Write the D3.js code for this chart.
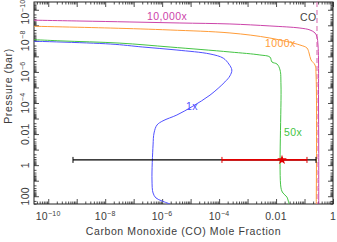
<!DOCTYPE html>
<html>
<head>
<meta charset="utf-8">
<script src="https://cdn.jsdelivr.net/npm/d3@7"></script>
<style>
    body { margin: 0; background: #fff; }
    text { font-family: "Liberation Sans", Arial, sans-serif; }
</style>
</head>
<body>
<svg id="chart" width="337" height="242"></svg>
<script>
// CO mole fraction profiles, [mole fraction, pressure in bar]
const profile1x = [
    [1e-11, 1.0e-8], [1.5e-8, 1.6e-8], [2.1e-7, 2.5e-8], [3.3e-6, 3.9e-8], [4.8e-5, 7.0e-8],
    [1.4e-4, 1.3e-7], [2.2e-4, 3.1e-7], [2.8e-4, 7.5e-7], [2.4e-4, 1.8e-6], [1.6e-4, 4.4e-6],
    [4.8e-5, 3.1e-5], [1.2e-5, 1.6e-4], [3.3e-6, 5.9e-4], [1.07e-6, 1.4e-3], [6.6e-7, 2.6e-3],
    [5.2e-7, 8.5e-3], [4.8e-7, 0.05], [4.4e-7, 9], [4.8e-7, 62], [6.1e-7, 130],
    [9.9e-7, 202], [1.9e-6, 316]
];
const profile50x = [
    [1e-11, 7.6e-9], [2.6e-10, 1.0e-8], [3.3e-8, 1.4e-8], [1.9e-6, 2.5e-8], [2.4e-4, 5.2e-8],
    [2.7e-3, 8.1e-8], [6.1e-3, 1.1e-7], [7.2e-3, 2.3e-7], [0.0108, 3.1e-7], [0.0138, 7.5e-7],
    [0.0149, 6.9e-6], [0.0149, 29], [0.0175, 62], [0.024, 112], [0.0285, 316]
];
const profile1000x = [
    [1e-11, 1.1e-9], [1.5e-8, 1.5e-9], [1.9e-6, 2.0e-9], [2.4e-4, 3.1e-9], [6.1e-3, 6.6e-9],
    [0.069, 1.85e-8], [0.122, 2.9e-8], [0.144, 6.0e-8], [0.169, 1.7e-7], [0.233, 3.6e-7],
    [0.255, 2.1e-6], [0.258, 316]
];
const profile10000x = [
    [1e-11, 4.5e-10], [1.3e-9, 5.3e-10], [7.4e-8, 6.1e-10], [4.2e-6, 7.1e-10], [2.4e-4, 8.2e-10],
    [6.1e-3, 1.1e-9], [0.069, 1.5e-9], [0.156, 2.0e-9], [0.233, 3.1e-9], [0.274, 5.6e-9],
    [0.297, 1.85e-8], [0.31, 1.7e-7], [0.31, 6.4e-5], [0.315, 0.106], [0.315, 316]
];
const coTotal = 0.274;          // dashed "CO" limit
const obsPressure = 0.46;       // retrieved pressure level
const obsBlack = [7.4e-10, 0.253];
const obsRed = [1.26e-4, 0.122];
const obsBest = 0.0162;

const xLabelTicks = [1e-10, 1e-8, 1e-6, 1e-4, 1e-2, 1];
const yLabelTicks = [1e-10, 1e-8, 1e-6, 1e-4, 1e-2, 1, 100];

const series = [
    {name: "1x",      data: profile1x,     color: "#5050ff", lx: 186, ly: 110},
    {name: "50x",     data: profile50x,    color: "#44c444", lx: 284, ly: 136},
    {name: "1000x",   data: profile1000x,  color: "#ff9c38", lx: 265, ly: 47},
    {name: "10,000x", data: profile10000x, color: "#cc44aa", lx: 147, ly: 20}
];

const margin = {left: 34, right: 333, top: 2, bottom: 204};
const svg = d3.select("#chart");

const x = d3.scaleLog().domain([10 ** -10.5, 1]).range([margin.left, margin.right]);
const y = d3.scaleLog().domain([10 ** -10.5, 10 ** 2.5]).range([margin.top, margin.bottom]);

svg.append("defs").append("clipPath").attr("id", "plotClip")
    .append("rect")
    .attr("x", margin.left).attr("y", margin.top)
    .attr("width", margin.right - margin.left).attr("height", margin.bottom - margin.top);

// decade + minor ticks
const decades = d3.range(-11, 3);
const inDomain = s => v => v >= s.domain()[0] && v <= s.domain()[1];
const majorX = decades.map(d => 10 ** d).filter(inDomain(x));
const minorX = decades.flatMap(d => d3.range(2, 10).map(m => m * 10 ** d)).filter(inDomain(x));
const majorY = decades.map(d => 10 ** d).filter(inDomain(y));
const minorY = decades.flatMap(d => d3.range(2, 10).map(m => m * 10 ** d)).filter(inDomain(y));

const axisColor = "#222";
function addAxis(axis, transform) {
    const g = svg.append("g").attr("transform", transform).call(axis);
    g.selectAll("path, line").attr("stroke", axisColor).attr("stroke-width", 0.8);
    g.select(".domain").remove();
    g.selectAll("text").remove();
}
[[majorX, 5], [minorX, 2.5]].forEach(([vals, len]) => {
    addAxis(d3.axisBottom(x).tickValues(vals).tickSize(-len), `translate(0,${margin.bottom})`);
    addAxis(d3.axisTop(x).tickValues(vals).tickSize(-len), `translate(0,${margin.top})`);
});
[[majorY, 5], [minorY, 2.5]].forEach(([vals, len]) => {
    addAxis(d3.axisLeft(y).tickValues(vals).tickSize(-len), `translate(${margin.left},0)`);
    addAxis(d3.axisRight(y).tickValues(vals).tickSize(-len), `translate(${margin.right},0)`);
});

svg.append("rect")
    .attr("x", margin.left).attr("y", margin.top)
    .attr("width", margin.right - margin.left).attr("height", margin.bottom - margin.top)
    .attr("fill", "none").attr("stroke", axisColor).attr("stroke-width", 1);

// tick labels, 10^n written with a superscript
function tickLabel(sel, v) {
    const e = Math.round(Math.log10(v));
    if (e >= -2) {
        sel.text(d3.format("~g")(v));
    } else {
        sel.append("tspan").text("10");
        sel.append("tspan").attr("font-size", 7).attr("dy", -4.5).text("\u2212" + (-e));
    }
}
const labelColor = "#3c3c3c";
xLabelTicks.forEach(v => {
    svg.append("text")
        .attr("x", x(v)).attr("y", 220)
        .attr("text-anchor", "middle").attr("font-size", 10.5)
        .attr("letter-spacing", 0.3).attr("fill", labelColor)
        .call(tickLabel, v);
});
yLabelTicks.forEach(v => {
    svg.append("text")
        .attr("transform", `translate(29,${Math.max(y(v), 12)}) rotate(-90)`)
        .attr("text-anchor", "middle").attr("font-size", 10.5)
        .attr("letter-spacing", 0.3).attr("fill", labelColor)
        .call(tickLabel, v);
});

svg.append("text")
    .attr("x", (margin.left + margin.right) / 2).attr("y", 235)
    .attr("text-anchor", "middle").attr("font-size", 10.5)
    .attr("letter-spacing", 0.6).attr("fill", labelColor)
    .text("Carbon Monoxide (CO) Mole Fraction");
svg.append("text")
    .attr("transform", "translate(12,86) rotate(-90)")
    .attr("text-anchor", "middle").attr("font-size", 10.5)
    .attr("letter-spacing", 0.6).attr("fill", labelColor)
    .text("Pressure (bar)");

// curves
const plot = svg.append("g").attr("clip-path", "url(#plotClip)");
const line = d3.line()
    .x(d => x(d[0])).y(d => y(d[1]))
    .curve(d3.curveCatmullRom.alpha(0.5));

plot.append("line")
    .attr("x1", x(coTotal)).attr("x2", x(coTotal))
    .attr("y1", margin.top).attr("y2", margin.bottom)
    .attr("stroke", "#d864a8").attr("stroke-width", 1).attr("stroke-dasharray", "5,3");

series.forEach(s => {
    plot.append("path")
        .attr("d", line(s.data))
        .attr("fill", "none").attr("stroke", s.color).attr("stroke-width", 1);
    svg.append("text")
        .attr("x", s.lx).attr("y", s.ly)
        .attr("font-size", 10.5).attr("letter-spacing", 0.4).attr("fill", s.color)
        .text(s.name);
});
svg.append("text")
    .attr("x", 300).attr("y", 21)
    .attr("font-size", 10.5).attr("letter-spacing", 0.4).attr("fill", "#444")
    .text("CO");

// observation error bars
const py = y(obsPressure);
function errorBar(range, color, width) {
    plot.append("line")
        .attr("x1", x(range[0])).attr("x2", x(range[1]))
        .attr("y1", py).attr("y2", py)
        .attr("stroke", color).attr("stroke-width", width);
    range.forEach(v => plot.append("line")
        .attr("x1", x(v)).attr("x2", x(v))
        .attr("y1", py - 3).attr("y2", py + 3)
        .attr("stroke", color).attr("stroke-width", 1));
}
errorBar(obsBlack, "#000", 1.2);
errorBar(obsRed, "#e00000", 1.6);
plot.append("path")
    .attr("transform", `translate(${x(obsBest)},${py})`)
    .attr("d", d3.symbol(d3.symbolStar, 30)())
    .attr("fill", "#e00000");
</script>
</body>
</html>
